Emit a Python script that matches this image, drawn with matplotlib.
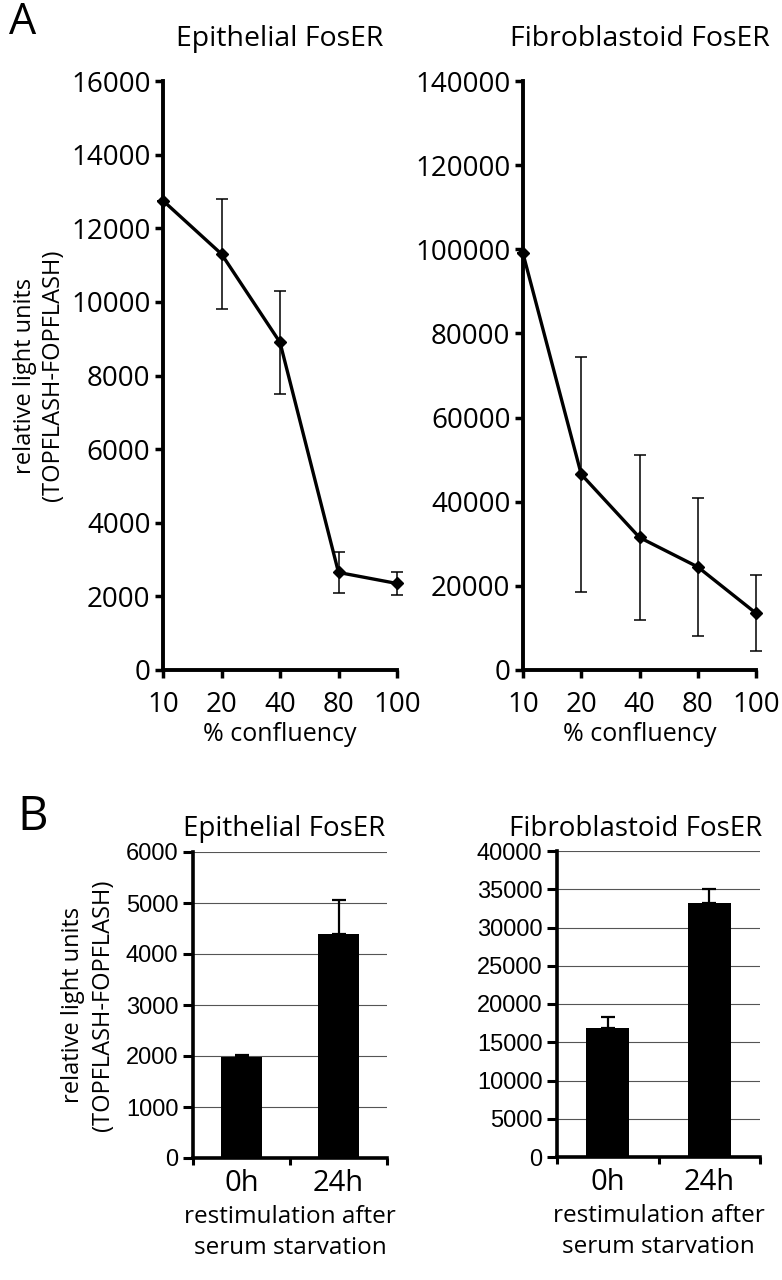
import numpy as np
import matplotlib.pyplot as plt

# Panel A: luciferase activity vs confluency
confluency = ["10", "20", "40", "80", "100"]
epi_conf = [12750, 11300, 8900, 2650, 2350]
epi_conf_lo = [0, 1500, 1400, 550, 300]
epi_conf_hi = [0, 1500, 1400, 550, 300]
fib_conf = [99000, 46500, 31500, 24500, 13500]
fib_conf_lo = [0, 28000, 19500, 16500, 9000]
fib_conf_hi = [0, 28000, 19500, 16500, 9000]

# Panel B: restimulation after serum starvation
timepoints = ["0h", "24h"]
epi_restim = [1980, 4400]
epi_restim_err = [30, 650]
fib_restim = [16800, 33200]
fib_restim_err = [1500, 1800]

W, H = 782, 1280
fig = plt.figure(figsize=(W / 100, H / 100), dpi=100)

myriad = ["Open Sans", "DejaVu Sans"]
arial = ["Liberation Sans", "DejaVu Sans"]


def px_axes(x0, x1, y0, y1):
    return fig.add_axes([x0 / W, 1 - y1 / H, (x1 - x0) / W, (y1 - y0) / H])


def style_spines(ax, lw=2.8):
    for s in ["top", "right"]:
        ax.spines[s].set_visible(False)
    for s in ["left", "bottom"]:
        ax.spines[s].set_linewidth(lw)
        ax.spines[s].set_color("black")


def line_panel(ax, vals, lo, hi, ymax, step, title):
    x = np.arange(len(confluency))
    ax.errorbar(x, vals, yerr=[lo, hi], color="black", lw=2.4, marker="D",
                ms=6, ecolor="black", elinewidth=1.1, capsize=4, capthick=1.1,
                clip_on=False, zorder=3)
    ax.set_xlim(0, len(confluency) - 1)
    ax.set_ylim(0, ymax)
    ax.set_yticks(np.arange(0, ymax + 1, step))
    ax.set_xticks(x)
    ax.set_xticklabels(confluency)
    style_spines(ax)
    ax.tick_params(axis="both", direction="out", length=6, width=2.5, pad=3)
    ax.tick_params(axis="x", pad=9)
    for lab in ax.get_xticklabels() + ax.get_yticklabels():
        lab.set_family(myriad)
        lab.set_fontsize(20)
    ax.set_xlabel("% confluency", family=myriad, fontsize=18, labelpad=2)
    ax.set_title(title, family=myriad, fontsize=20.5, pad=25)


def bar_panel(ax, vals, err, ymax, step, title, title_x):
    x = np.array([0.5, 1.5])
    ax.set_axisbelow(True)
    ax.yaxis.grid(True, color="#555555", lw=0.8)
    ax.bar(x, vals, width=0.42, color="black", zorder=2)
    ax.errorbar(x, vals, yerr=[np.zeros(len(err)), err], fmt="none",
                ecolor="black", elinewidth=1.6, capsize=5, capthick=1.6, zorder=3)
    ax.set_xlim(0, 2)
    ax.set_ylim(0, ymax)
    ax.set_yticks(np.arange(0, ymax + 1, step))
    ax.set_xticks([0, 1, 2])
    ax.set_xticklabels([])
    ax.set_xticks(x, minor=True)
    ax.set_xticklabels(timepoints, minor=True, family=myriad, fontsize=21)
    ax.tick_params(axis="x", which="minor", length=0, pad=8)
    style_spines(ax, lw=2.6)
    ax.tick_params(axis="both", which="major", direction="out", length=7, width=2.2)
    ax.tick_params(axis="x", which="major", length=5)
    for lab in ax.get_yticklabels():
        lab.set_family(arial)
        lab.set_fontsize(17)
    ax.set_xlabel("restimulation after\nserum starvation", family=myriad,
                  fontsize=17.5, labelpad=5, linespacing=1.4)
    fig.text(title_x / W, 1 - 836 / H, title, family=myriad, fontsize=20,
             ha="center", va="baseline")


ax1 = px_axes(163, 397, 81, 670)
line_panel(ax1, epi_conf, epi_conf_lo, epi_conf_hi, 16000, 2000, "Epithelial FosER")
ax1.set_ylabel("relative light units\n(TOPFLASH-FOPFLASH)", family=myriad,
               fontsize=17, labelpad=4, linespacing=1.25)

ax2 = px_axes(523, 756, 81, 670)
line_panel(ax2, fib_conf, fib_conf_lo, fib_conf_hi, 140000, 20000, "Fibroblastoid FosER")

ax3 = px_axes(193, 387, 852, 1158)
bar_panel(ax3, epi_restim, epi_restim_err, 6000, 1000, "Epithelial FosER", 284)
ax3.set_ylabel("relative light units\n(TOPFLASH-FOPFLASH)", family=myriad,
               fontsize=17, labelpad=8, linespacing=1.3)

ax4 = px_axes(557, 760, 851, 1157)
bar_panel(ax4, fib_restim, fib_restim_err, 40000, 5000, "Fibroblastoid FosER", 636)

fig.text(9 / W, 1 - 1 / H, "A", family=myriad, fontsize=31, va="top", ha="left")
fig.text(17 / W, 1 - 793 / H, "B", family=myriad, fontsize=34, va="top", ha="left")

fig.savefig("out.png", dpi=100, facecolor="white")
